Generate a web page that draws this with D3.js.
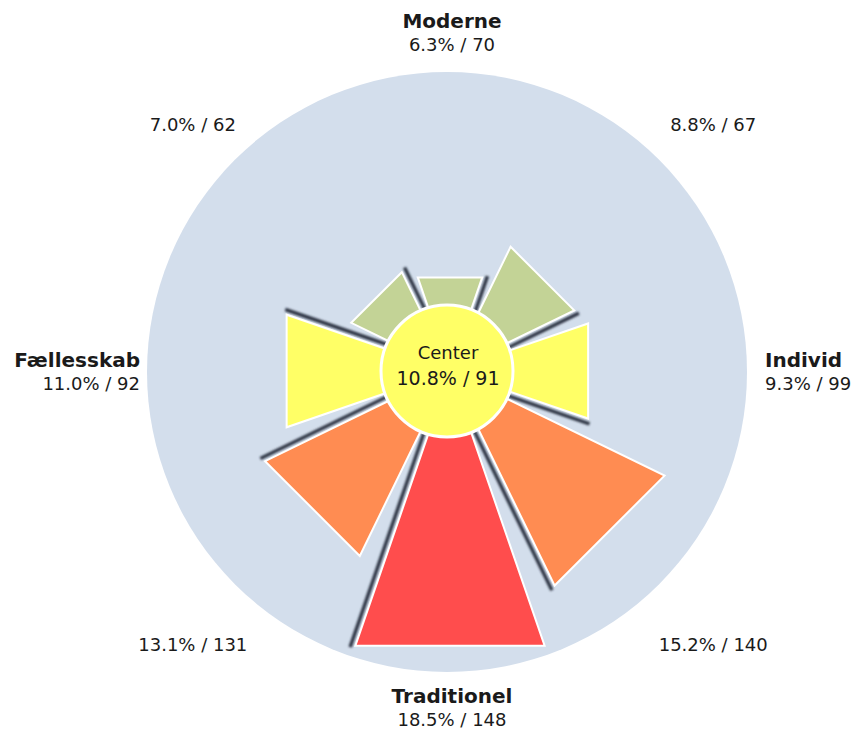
<!DOCTYPE html>
<html>
<head>
<meta charset="utf-8">
<script src="https://cdn.jsdelivr.net/npm/d3@7"></script>
<style>
  html, body { margin: 0; padding: 0; background: #ffffff; }
  svg { display: block; }
  text { font-family: "DejaVu Sans", sans-serif; fill: #1a1a1a; }
</style>
</head>
<body>
<svg id="chart" width="856" height="733"></svg>
<script>
// ---- data (clockwise from top) ----
const segments = ["Moderne", "Moderne-Individ", "Individ", "Individ-Traditionel",
                  "Traditionel", "Traditionel-Fællesskab", "Fællesskab", "Fællesskab-Moderne"];
const names    = ["Moderne", "", "Individ", "", "Traditionel", "", "Fællesskab", ""];
const percents = [6.3, 8.8, 9.3, 15.2, 18.5, 13.1, 11.0, 7.0];
const counts   = [70, 67, 99, 140, 148, 131, 92, 62];
const centerLabel = "Center";
const centerPercent = 10.8;
const centerCount = 91;

// ---- layout ----
const W = 856, H = 733;
const cx = 450, cy = 371;
const outerR = 300;
const innerR = 66;
const halfSpan = 19 * Math.PI / 180;

const svg = d3.select("#chart");
const defs = svg.append("defs");
const f = defs.append("filter").attr("id", "shadowBlur")
  .attr("x", "-20%").attr("y", "-20%").attr("width", "140%").attr("height", "140%");
f.append("feGaussianBlur").attr("stdDeviation", 1.3);

const r = d3.scaleLinear().domain([0, 19.1]).range([0, outerR]);
const angle = d3.scaleBand().domain(segments).range([-Math.PI / 8, 2 * Math.PI - Math.PI / 8]);
const mid = d => angle(d) + angle.bandwidth() / 2;
const color = d3.scaleThreshold().domain([9, 12.5, 17])
  .range(["#c3d396", "#ffff66", "#ff8c52", "#ff4d4d"]);

const data = segments.map((s, i) => ({ key: s, name: names[i], pct: percents[i], n: counts[i] }));

const g = svg.append("g").attr("transform", `translate(${cx},${cy})`);

// background disc
g.append("circle").attr("cx", -3).attr("cy", 1).attr("r", outerR).attr("fill", "#d3deec");

// shadows along the clockwise edge of each segment
g.selectAll("line.shadow").data(data).join("line")
  .attr("class", "shadow")
  .each(function (d) {
    const a = mid(d.key) + halfSpan;
    const off = [4.5 * Math.cos(a), 4.5 * Math.sin(a)];
    const p0 = d3.pointRadial(a, innerR - 10);
    const p1 = d3.pointRadial(a, r(d.pct) + 3);
    d3.select(this)
      .attr("x1", p0[0] + off[0]).attr("y1", p0[1] + off[1])
      .attr("x2", p1[0] + off[0]).attr("y2", p1[1] + off[1]);
  })
  .attr("stroke", "#2f3644").attr("stroke-width", 3.5)
  .attr("filter", "url(#shadowBlur)");

// segments
g.selectAll("path.seg").data(data).join("path")
  .attr("class", "seg")
  .attr("d", d => {
    const a = mid(d.key);
    const pts = [d3.pointRadial(a - halfSpan, 20), d3.pointRadial(a - halfSpan, r(d.pct)),
                 d3.pointRadial(a + halfSpan, r(d.pct)), d3.pointRadial(a + halfSpan, 20)];
    return "M" + pts.map(p => p.join(",")).join("L") + "Z";
  })
  .attr("fill", d => color(d.pct))
  .attr("stroke", "#ffffff").attr("stroke-width", 2).attr("stroke-linejoin", "miter");

// center circle
g.append("circle").attr("cx", -3).attr("r", innerR).attr("fill", color(centerPercent))
  .attr("stroke", "#ffffff").attr("stroke-width", 3);
g.append("text").attr("x", -2).attr("text-anchor", "middle").attr("y", -12).attr("font-size", 18).text(centerLabel);
g.append("text").attr("x", -2).attr("text-anchor", "middle").attr("y", 14).attr("font-size", 19)
  .text(`${centerPercent.toFixed(1)}% / ${centerCount}`);

// outer labels
const labels = svg.append("g");
data.forEach(d => {
  const a = mid(d.key);
  const idx = segments.indexOf(d.key);
  const valueText = `${d.pct.toFixed(1)}% / ${d.n}`;
  if (d.name) {
    // cardinal directions: name (bold) + value
    let x, y, anchor;
    if (idx === 0) { x = cx + 2; y = 28; anchor = "middle"; }
    else if (idx === 4) { x = cx + 2; y = 703; anchor = "middle"; }
    else {
      const p = d3.pointRadial(a, idx === 2 ? 315 : 310);
      x = cx + p[0]; y = 367; anchor = idx === 2 ? "start" : "end";
    }
    labels.append("text").attr("x", x).attr("y", y).attr("text-anchor", anchor)
      .attr("font-size", 20).attr("font-weight", "bold").text(d.name);
    labels.append("text").attr("x", x).attr("y", y + 23).attr("text-anchor", anchor)
      .attr("font-size", 18).text(valueText);
  } else {
    const p = d3.pointRadial(a, 368);
    labels.append("text").attr("x", cx + 3 + p[0]).attr("y", cy + p[1] + 20)
      .attr("text-anchor", "middle").attr("font-size", 18).text(valueText);
  }
});
</script>
</body>
</html>
